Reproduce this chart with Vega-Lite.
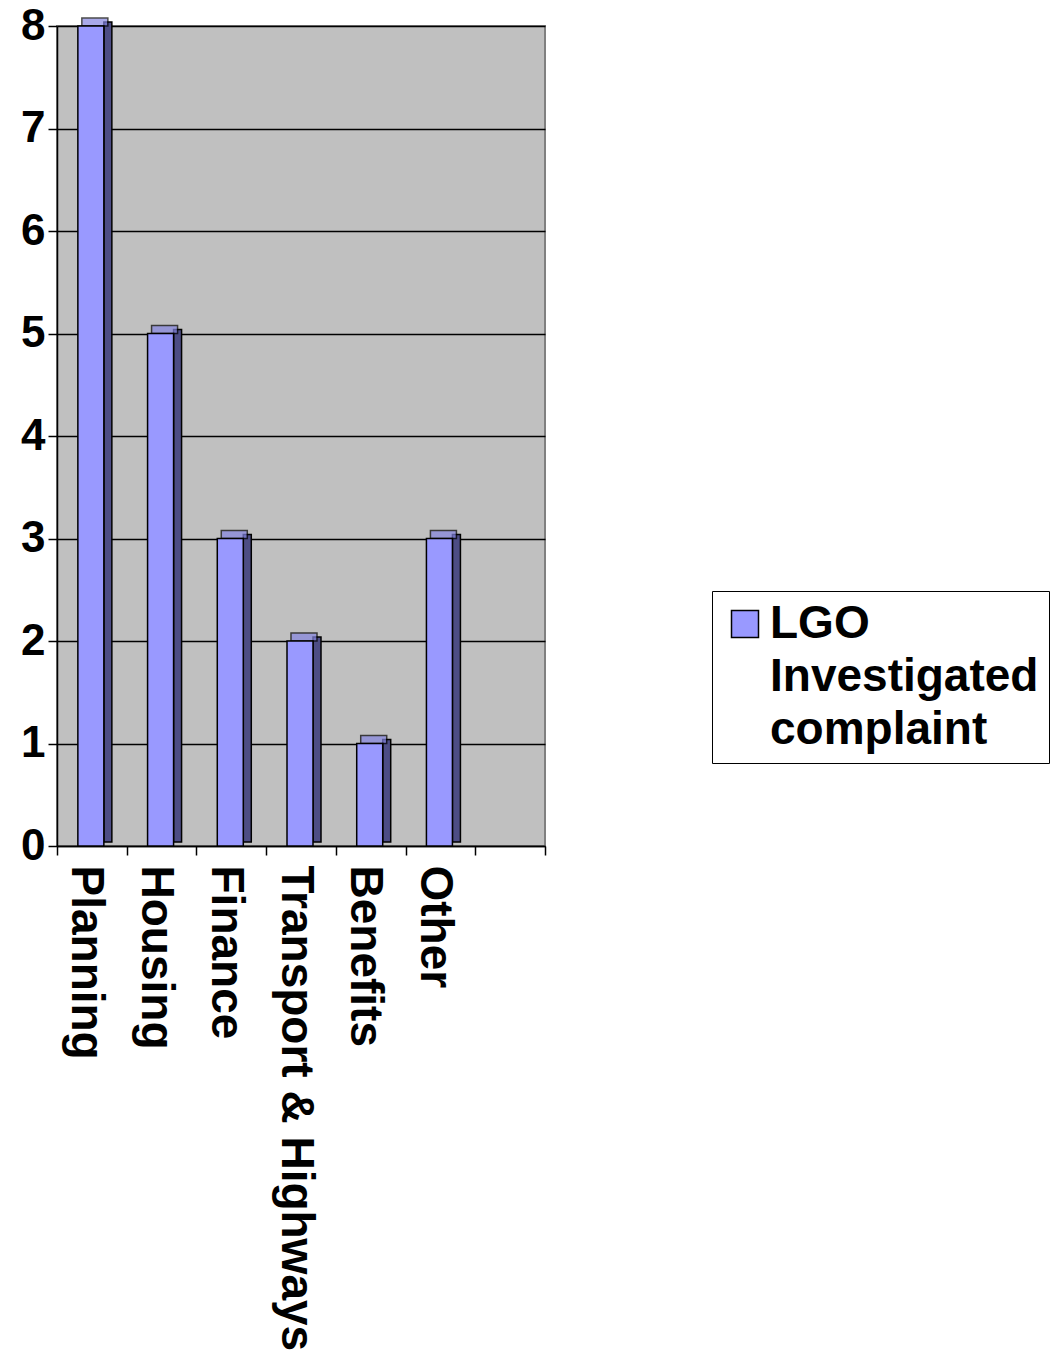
{
  "$schema": "https://vega.github.io/schema/vega-lite/v6.json",
  "width": 488,
  "height": 820,
  "autosize": {"type": "none"},
  "padding": {"left": 57, "top": 26, "right": 513, "bottom": 515},
  "background": "white",
  "config": {
    "view": {"fill": "#c0c0c0", "stroke": "#808080", "strokeWidth": 2},
    "font": "Liberation Sans"
  },
  "data": {
    "values": [
      {"category": "Planning", "value": 8, "series": "LGO Investigated complaint"},
      {"category": "Housing", "value": 5, "series": "LGO Investigated complaint"},
      {"category": "Finance", "value": 3, "series": "LGO Investigated complaint"},
      {"category": "Transport & Highways", "value": 2, "series": "LGO Investigated complaint"},
      {"category": "Benefits", "value": 1, "series": "LGO Investigated complaint"},
      {"category": "Other", "value": 3, "series": "LGO Investigated complaint"}
    ]
  },
  "encoding": {
    "x": {
      "field": "category",
      "type": "nominal",
      "sort": null,
      "scale": {
        "domain": ["Planning", "Housing", "Finance", "Transport & Highways", "Benefits", "Other", "_blank"],
        "paddingInner": 0,
        "paddingOuter": 0
      },
      "axis": {
        "title": null,
        "labelAngle": 90,
        "labelAlign": "left",
        "labelBaseline": "middle",
        "labelFontSize": 46,
        "labelFontWeight": "bold",
        "labelColor": "black",
        "labelPadding": 10,
        "labelOffset": -6,
        "labelExpr": "datum.value == '_blank' ? '' : datum.value",
        "tickBand": "extent",
        "tickColor": "black",
        "tickSize": 9,
        "tickWidth": 1.5,
        "domainColor": "black",
        "domainWidth": 1.5,
        "grid": false,
        "labelLimit": 700
      }
    },
    "y": {
      "field": "value",
      "type": "quantitative",
      "scale": {"domain": [0, 8], "nice": false},
      "axis": {
        "title": null,
        "values": [0, 1, 2, 3, 4, 5, 6, 7, 8],
        "labelFontSize": 44,
        "labelFontWeight": "bold",
        "labelColor": "black",
        "labelPadding": 3,
        "tickColor": "black",
        "tickSize": 9,
        "tickWidth": 1.5,
        "domainColor": "black",
        "domainWidth": 1.5,
        "grid": true,
        "gridColor": "black",
        "gridWidth": 1.5,
        "gridOpacity": 1
      }
    }
  },
  "layer": [
    {
      "mark": {"type": "bar", "width": 8, "xOffset": 16, "yOffset": -4, "color": "#4d4d85", "stroke": "black", "strokeWidth": 1.5}
    },
    {
      "mark": {"type": "tick", "orient": "horizontal", "size": 26, "thickness": 8, "xOffset": 3, "yOffset": -4, "color": "#8585e0", "stroke": "black", "strokeWidth": 1.5}
    },
    {
      "mark": {"type": "bar", "width": 26, "xOffset": -1, "stroke": "black", "strokeWidth": 1.5},
      "encoding": {
        "color": {
          "field": "series",
          "type": "nominal",
          "scale": {"range": ["#9999ff"]},
          "legend": {
            "title": null,
            "orient": "none",
            "legendX": 655,
            "legendY": 565,
            "symbolType": "square",
            "symbolSize": 729,
            "symbolStrokeColor": "black",
            "symbolStrokeWidth": 1.5,
            "symbolFillColor": "#9999ff",
            "labelFontSize": 46,
            "labelFontWeight": "bold",
            "labelColor": "black",
            "labelExpr": "['LGO', 'Investigated', 'complaint']",
            "labelLimit": 400,
            "labelOffset": 2,
            "strokeColor": "black",
            "fillColor": "white",
            "padding": 10,
            "encode": {
              "labels": {"update": {"lineHeight": {"value": 53}}}
            }
          }
        }
      }
    }
  ]
}
